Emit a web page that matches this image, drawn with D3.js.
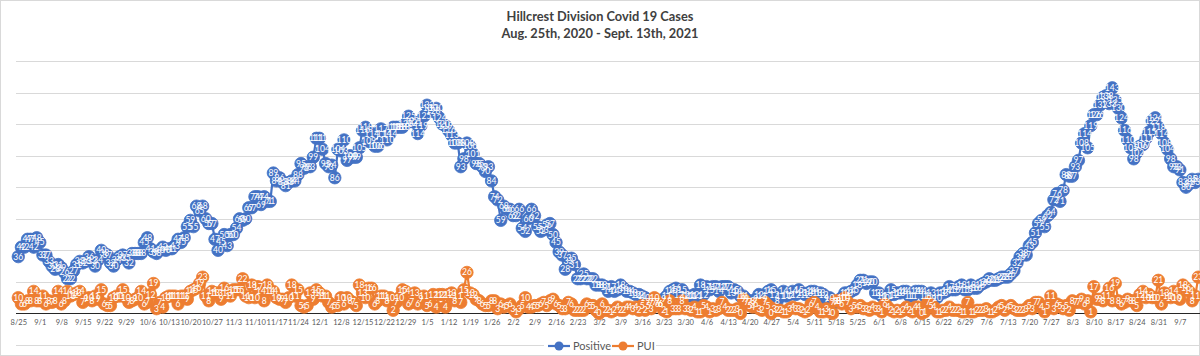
<!DOCTYPE html>
<html><head><meta charset="utf-8">
<script src="https://cdn.jsdelivr.net/npm/d3@7"></script>
<style>body{margin:0;background:#fff;} svg{display:block;font-family:Lato,'Open Sans',sans-serif;}</style>
</head><body><svg id="c" width="1200" height="356"></svg>
<script>
const titleLines = ["Hillcrest Division Covid 19 Cases", "Aug. 25th, 2020 - Sept. 13th, 2021"];
const startDate = "2020-08-25";
const tickLabels = ["8/25","9/1","9/8","9/15","9/22","9/29","10/6","10/13","10/20","10/27","11/3","11/10","11/17","11/24","12/1","12/8","12/15","12/22","12/29","1/5","1/12","1/19","1/26","2/2","2/9","2/16","2/23","3/2","3/9","3/16","3/23","3/30","4/6","4/13","4/20","4/27","5/4","5/11","5/18","5/25","6/1","6/8","6/15","6/22","6/29","7/6","7/13","7/20","7/27","8/3","8/10","8/17","8/24","8/31","9/7"];
const seriesNames = ["Positive", "PUI"];
const positive = [
36,42,42,47,47,42,48, 45,37,37,33,30,28,31, 29,26,22,22,27,31,33, 32,33,36,33,30,34,40,
38,37,32,30,34,36,37, 35,32,38,38,38,38,45, 48,41,39,38,40,42,40, 41,41,43,47,45,48,55,
59,55,68,65,68,60,57, 57,47,40,45,50,43,50, 50,54,60,59,60,67,67, 74,74,69,74,71,71,89,
84,86,83,81,83,84,84, 88,95,92,93,93,99,111, 111,104,95,93,94,86,104, 103,110,97,100,99,99,105,
116,118,109,114,106,106,117, 114,110,114,118,118,118,118, 120,125,122,121,114,119,125, 132,130,128,130,124,120,119,
116,113,108,108,93,98,108, 106,101,95,95,93,90,93, 84,74,72,59,68,66,66, 62,62,66,54,52,60,66,
62,55,52,53,56,57,50, 45,39,37,28,33,35,31, 22,22,25,22,22,22,18, 18,18,17,14,17,14,15,
18,16,14,14,13,12,12, 11,10,7,7,7,6,6, 9,11,14,15,16,12,15, 12,11,11,12,11,18,12,
17,15,17,17,14,17,17, 17,13,15,14,11,11,9, 7,8,9,12,11,9,14, 15,12,8,11,14,11,12,
14,12,15,13,12,13,14, 14,13,13,12,9,10,7, 7,8,10,13,13,14,15, 18,21,21,19,20,20,13,
13,11,10,11,15,12,13, 13,14,14,11,11,14,14, 14,11,11,13,9,10,13, 13,14,17,15,15,17,18,
15,15,18,16,16,18,19, 20,22,21,21,22,23,23, 23,25,27,32,36,38,37, 43,45,51,57,59,55,62,
64,72,76,71,78,88,87, 87,93,97,108,114,105,119, 126,126,132,137,138,133,143, 135,130,124,116,110,105,98,
102,106,107,111,115,122,124, 118,114,108,104,98,93,93, 91,83,80,82,85,83,85
];
const pui = [
10,6,6,8,8,14,8, 8,11,6,8,7,8,14, 6,8,14,11,12,13,14, 7,9,10,8,11,9,15,
6,5,5,10,11,11,15, 10,7,8,9,10,14,6, 7,12,19,3,7,4,10, 11,11,11,6,11,11,9,
14,15,16,19,23,11,8, 14,13,13,9,16,13,11, 15,15,15,22,11,10,18, 10,17,14,8,18,14,14,
10,9,9,7,10,18,11, 15,5,4,5,13,9,15, 13,11,11,7,4,5,5, 10,6,10,8,7,5,18,
13,10,16,16,6,8,11, 11,8,10,2,7,10,15, 14,6,7,13,6,9,11, 5,6,12,4,12,12,4,
12,13,8,11,7,15,26, 13,12,9,8,6,5,5, 8,8,3,6,4,5,6, 3,1,3,5,10,4,4,
5,5,6,7,5,8,9, 6,5,3,3,7,6,2, 2,2,2,6,5,5,2, 0,6,2,2,1,2,4,
2,2,4,4,3,4,2, 5,2,5,3,10,7,6, 2,1,8,3,3,3,8, 3,3,2,4,1,1,5,
4,1,3,2,3,7,4, 2,2,2,3,0,9,7, 5,4,6,3,2,7,5, 0,3,2,2,1,1,3,
4,3,3,2,1,2,6, 7,4,1,1,3,1,0, 8,8,6,10,7,3,5, 4,5,3,3,2,4,3,
3,1,6,4,2,1,2, 1,2,4,2,1,4,4, 0,1,7,5,4,1,1, 2,2,4,2,2,2,1,
1,7,1,1,2,2,2, 3,1,1,2,4,5,2, 4,5,3,2,2,2,3, 5,3,7,7,4,1,5,
11,3,6,5,3,5,2, 8,7,7,9,6,8,1, 17,9,9,8,11,16,8, 19,8,6,7,9,8,8,
5,12,14,10,12,10,10, 21,6,13,11,10,14,10, 9,18,16,14,8,11,23
];
const yTicks = [-20, 0, 20, 40, 60, 80, 100, 120, 140, 160];

const W = 1200, H = 356;
const colors = {Positive: "#4472C4", PUI: "#ED7D31"};
const svg = d3.select("#c");

const start = new Date(startDate + "T00:00:00Z");
const dates = positive.map((_, i) => d3.utcDay.offset(start, i));
const series = seriesNames.map(name => ({
  name,
  values: (name === "Positive" ? positive : pui).map((v, i) => ({date: dates[i], v}))
}));

const x = d3.scaleUtc().domain([dates[0], dates[dates.length - 1]]).range([18.3, 1198.3]);
const y = d3.scaleLinear().domain([-20, 160]).range([345, 61]);

// chart border
svg.append("rect").attr("x", 0.5).attr("y", 0.5).attr("width", W - 1).attr("height", H - 1)
  .attr("fill", "#fff").attr("stroke", "#d9d9d9");

// title
svg.append("g").selectAll("text").data(titleLines).join("text")
  .attr("x", W / 2).attr("y", (d, i) => 20.5 + i * 17.5)
  .attr("text-anchor", "middle").attr("font-size", 12.8).attr("font-weight", "bold")
  .attr("fill", "#404040").text(d => d);

// gridlines
svg.append("g").selectAll("line").data(yTicks.filter(t => t !== 0)).join("line")
  .attr("x1", 16).attr("x2", 1200).attr("y1", d => Math.round(y(d)) + 0.5).attr("y2", d => Math.round(y(d)) + 0.5)
  .attr("stroke", "#d9d9d9").attr("stroke-width", 1);

// x axis
const tickDates = tickLabels.map((_, i) => dates[i * 7]);
const xAxis = d3.axisBottom(x).tickValues(tickDates).tickSize(0).tickPadding(6)
  .tickFormat((d, i) => tickLabels[i]);
const gx = svg.append("g").attr("transform", `translate(0,${Math.round(y(0)) + 0.5})`).call(xAxis);
gx.select(".domain").attr("stroke", "#262626").attr("stroke-width", 1).attr("d", "M16,0H1200");
gx.selectAll("text").attr("font-family", "Lato,'Open Sans',sans-serif").attr("font-size", 7.5).attr("fill", "#595959");

// lines + markers
const line = d3.line().x(d => x(d.date)).y(d => y(d.v));
const gs = svg.append("g").selectAll("g").data(series).join("g");
gs.append("path").attr("d", d => line(d.values)).attr("fill", "none")
  .attr("stroke", d => colors[d.name]).attr("stroke-width", 2.2).attr("stroke-linejoin", "round");
gs.each(function(s) {
  d3.select(this).selectAll("circle").data(s.values).join("circle")
    .attr("cx", d => x(d.date)).attr("cy", d => y(d.v)).attr("r", 6.2)
    .attr("fill", colors[s.name]).attr("stroke", colors[s.name]).attr("stroke-width", 0.8);
});

// data labels
const gl = svg.append("g").selectAll("g").data(series).join("g");
gl.each(function(s) {
  d3.select(this).selectAll("text").data(s.values).join("text")
    .attr("x", d => x(d.date)).attr("y", d => y(d.v) + 3)
    .attr("text-anchor", "middle").attr("font-size", 8.5).attr("fill", "#fff")
    .text(d => d.v);
});

// legend
const lg = svg.append("g").attr("transform", "translate(544,336)");
lg.append("rect").attr("x", 0).attr("y", 0).attr("width", 112).attr("height", 18).attr("fill", "#fff");
const items = [{name: "Positive", x: 4}, {name: "PUI", x: 68}];
const li = lg.selectAll("g.item").data(items).join("g").attr("class", "item")
  .attr("transform", d => `translate(${d.x},10)`);
li.append("line").attr("x1", 0).attr("x2", 22).attr("y1", 0).attr("y2", 0)
  .attr("stroke", d => colors[d.name]).attr("stroke-width", 2.2);
li.append("circle").attr("cx", 11).attr("cy", 0).attr("r", 4.5).attr("fill", d => colors[d.name]);
li.append("text").attr("x", 25).attr("y", 4).attr("font-size", 11).attr("fill", "#595959").text(d => d.name);
</script>
</body></html>
